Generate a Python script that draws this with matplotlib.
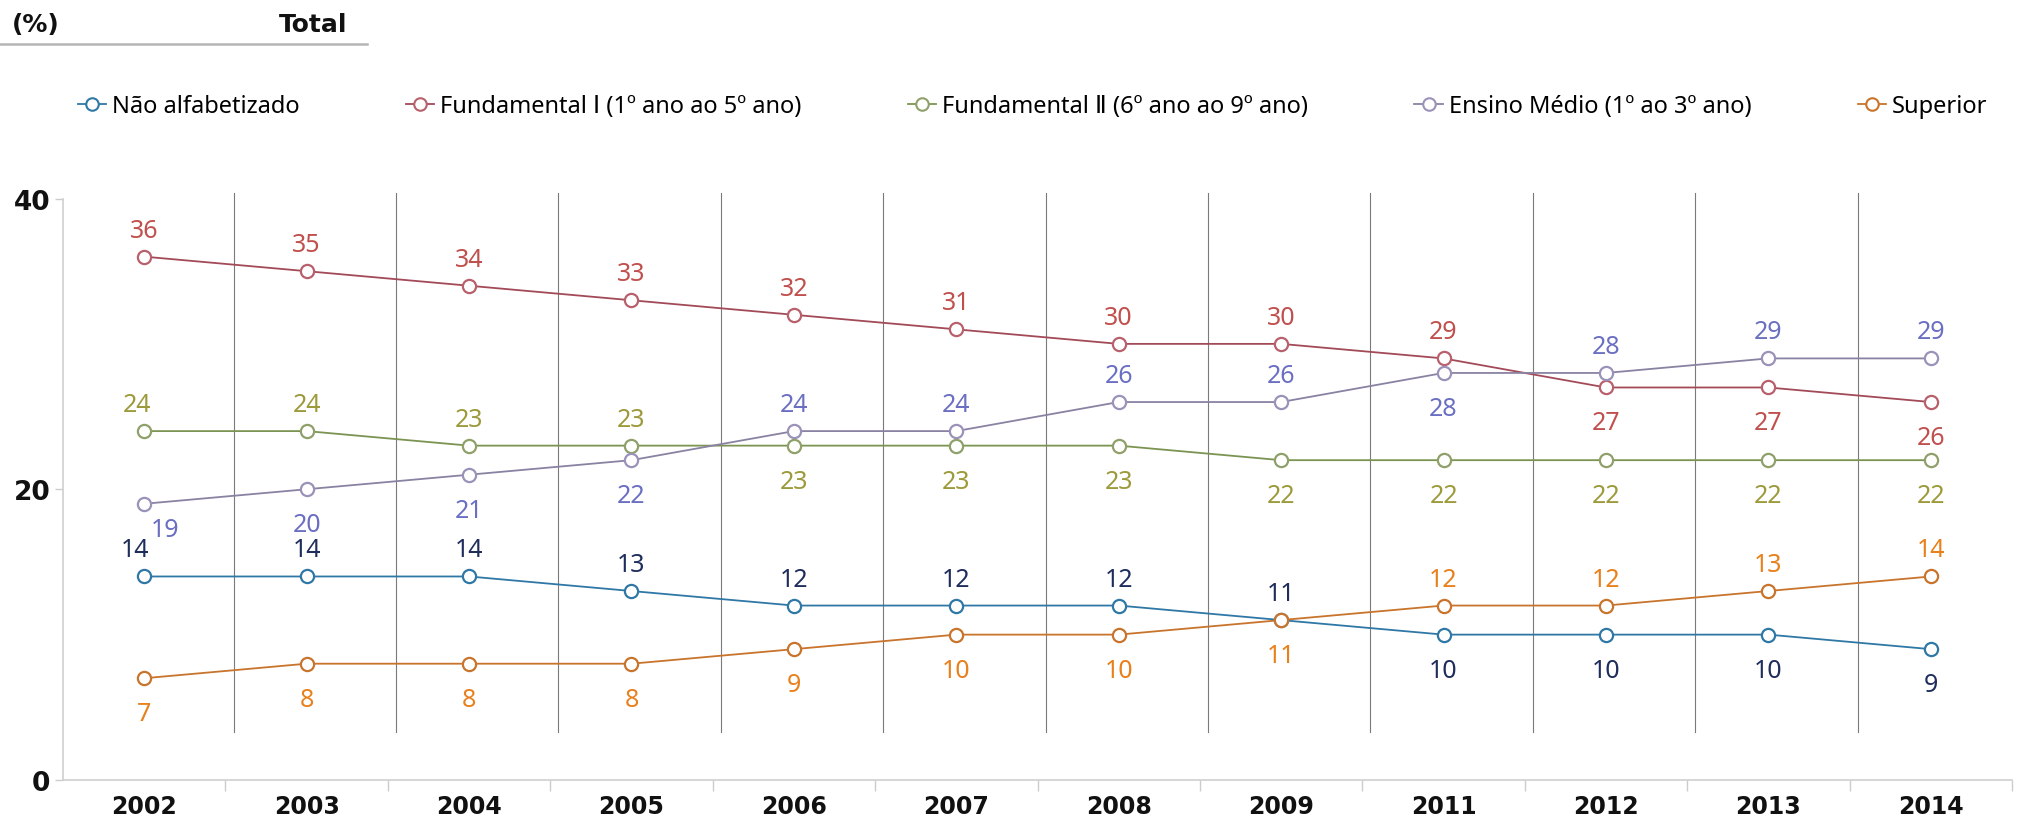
import matplotlib
matplotlib.use("Agg")
import matplotlib.pyplot as plt
from matplotlib.lines import Line2D

plt.rcParams['font.family'] = ['Noto Sans', 'DejaVu Sans']

# Data
years = ['2002', '2003', '2004', '2005', '2006', '2007', '2008', '2009',
         '2011', '2012', '2013', '2014']
nao_alfabetizado = [14, 14, 14, 13, 12, 12, 12, 11, 10, 10, 10, 9]
fundamental_1 = [36, 35, 34, 33, 32, 31, 30, 30, 29, 27, 27, 26]
fundamental_2 = [24, 24, 23, 23, 23, 23, 23, 22, 22, 22, 22, 22]
ensino_medio = [19, 20, 21, 22, 24, 24, 26, 26, 28, 28, 29, 29]
superior = [7, 8, 8, 8, 9, 10, 10, 11, 12, 12, 13, 14]

names = ['Não alfabetizado', 'Fundamental \u2160 (1º ano ao 5º ano)',
         'Fundamental \u2161 (6º ano ao 9º ano)', 'Ensino Médio (1º ao 3º ano)',
         'Superior']

# Styling: line colour, marker edge colour, label colour, label side (a=above, b=below)
styles = [
    (nao_alfabetizado, '#2f78a6', '#2f78a6', '#1f2d5c', 'aaaaaaaabbbb'),
    (fundamental_1, '#a34a58', '#b8606c', '#c0504d', 'aaaaaaaaabbb'),
    (fundamental_2, '#7c9452', '#8fa06a', '#9c9a3a', 'aaaabbbbbbbb'),
    (ensino_medio, '#8a82a2', '#9a92b8', '#6b6fc2', 'bbbbaaaabaaa'),
    (superior, '#c8742c', '#c8742c', '#e8801c', 'bbbbbbbbaaaa'),
]
# small horizontal nudges for a few labels (series index, point index): pixels
nudges = {(0, 0): -9, (2, 0): -7, (3, 0): 21}

bold = dict(family='DejaVu Sans', fontweight='bold', color='#111111')

W, H = 2018, 820
fig = plt.figure(figsize=(W / 100, H / 100), dpi=100)
ax = fig.add_axes([63 / W, 1 - 781 / H, (2012 - 63) / W, (781 - 199.5) / H])

x = list(range(len(years)))
for si, (vals, lc, mc, tc, side) in enumerate(styles):
    ax.plot(x, vals, color=lc, lw=1.3, marker='o', ms=9.5, mfc='white',
            mec=mc, mew=1.6, zorder=3, clip_on=False)
    for i, v in enumerate(vals):
        dy = 20 if side[i] == 'a' else -42
        dx = nudges.get((si, i), 0)
        if (si, i) == (3, 0):
            dy = -32
        ax.annotate(str(v), (i, v), xytext=(dx, dy), textcoords='offset pixels',
                    ha='center', va='baseline', color=tc, fontsize=18, zorder=4)

# vertical separators between years
for k in range(len(years) - 1):
    ax.plot([k + 0.55, k + 0.55], [3.3, 40.4], color='#7a7a7a', lw=0.8,
            zorder=1, clip_on=False)

ax.set_xlim(-0.5, 11.345)
ax.set_ylim(0, 40)
ax.set_xticks(x)
ax.set_xticklabels(years, fontsize=17, **bold)
ax.set_xticks([k + 0.5 for k in range(len(years))], minor=True)
ax.tick_params(axis='x', which='major', length=0, pad=10)
ax.tick_params(axis='x', which='minor', length=8, color='#cccccc', width=1)
ax.set_yticks([0, 20, 40])
ax.set_yticklabels(['0', '20', '40'], fontsize=19, **bold)
ax.tick_params(axis='y', length=6, color='#cccccc', width=1, pad=3)

for s in ['top', 'right']:
    ax.spines[s].set_visible(False)
for s in ['left', 'bottom']:
    ax.spines[s].set_color('#cfcfcf')
    ax.spines[s].set_linewidth(1.2)

# header
fig.text(12 / W, 1 - 25 / H, '(%)', fontsize=18, ha='left', va='center', **bold)
fig.text(347 / W, 1 - 25 / H, 'Total', fontsize=18, ha='right', va='center', **bold)
fig.add_artist(Line2D([0, 367 / W], [1 - 45 / H, 1 - 45 / H], color='#b5b5b5', lw=1.8))

# legend
handles = [Line2D([], [], color=lc, lw=1.3, marker='o', ms=9, mfc='white', mec=mc, mew=1.5)
           for (_, lc, mc, _, _) in styles]
fig.legend(handles, names, loc='center left', bbox_to_anchor=(78 / W, 1 - 107 / H),
           ncol=5, frameon=False, fontsize=17, handlelength=1.2, handletextpad=0.25,
           columnspacing=4.5, borderpad=0, borderaxespad=0)

fig.savefig('out.png', dpi=100)
